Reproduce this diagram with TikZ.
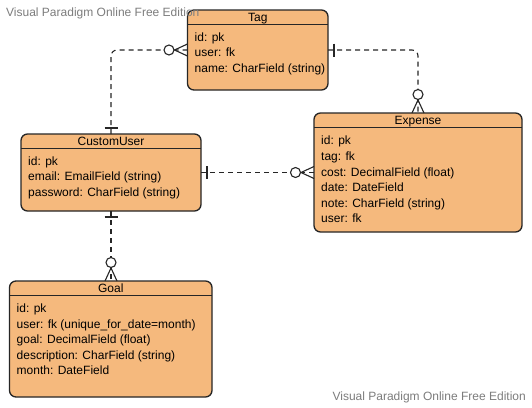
\documentclass[tikz,border=0pt]{standalone}
\usepackage{fontspec}
\setmainfont{Liberation Sans}
\usetikzlibrary{calc}
\definecolor{ent}{RGB}{245,185,125}
\definecolor{edge}{RGB}{38,38,38}
\definecolor{wm}{RGB}{125,125,125}
\tikzset{
  entity/.style={draw=edge, fill=ent, line width=1.3pt, rounded corners=6.5pt, anchor=north west, inner sep=0pt, outer sep=0pt},
  etitle/.style={font=\fontsize{12}{14}\selectfont, anchor=base, inner sep=0pt, text=black},
  ebody/.style={font=\fontsize{12}{15.6}\selectfont, align=left, anchor=north west, inner sep=0pt, text=black},
  hline/.style={draw=edge, line width=0.9pt},
  rel/.style={draw=edge, line width=1.1pt, dash pattern=on 5pt off 4pt, rounded corners=6pt},
  sym/.style={draw=edge, line width=1.1pt},
  watermark/.style={font=\fontsize{12}{14}\selectfont, text=wm, inner sep=0pt}
}
\newcommand\ERentity[8]{%
  \node[entity, minimum width=#4pt, minimum height=#5pt] (#1) at (#2,#3) {};
  \node[etitle] (#1-title) at ($(#1.north)+(0,11)$) {#6};
  \draw[hline] ($(#1.north west)+(0,14)$) -- ($(#1.north east)+(0,14)$);
  \node[ebody] (#1-body) at ($(#1.north west)+(7,#8)$) {#7};
}
\newcommand\ManyLeft[1]{\begin{scope}[shift={(#1)}]
  \draw[sym] (-13,0) -- (0,-6) (-13,0) -- (0,6);
  \draw[sym, fill=white] (-18.5,0) circle[radius=5pt];\end{scope}}
\newcommand\ManyUp[1]{\begin{scope}[shift={(#1)}]
  \draw[sym] (0,-13) -- (-6,0) (0,-13) -- (6,0);
  \draw[sym, fill=white] (0,-18.5) circle[radius=5pt];\end{scope}}
\newcommand\BarV[2]{\begin{scope}[shift={(#1)}]
  \draw[sym] (#2,-6.5) -- (#2,6.5);\end{scope}}
\newcommand\BarH[2]{\begin{scope}[shift={(#1)}]
  \draw[sym] (-6.5,#2) -- (6.5,#2);\end{scope}}
\begin{document}
\begin{tikzpicture}[x=1pt,y=-1pt]
  \useasboundingbox[fill=white] (0,0) rectangle (532,407);
  \ERentity{tag}{187.5}{10}{140.5}{80}{Tag}{id: pk\\user: fk\\name: CharField (string)}{22.5}
  \ERentity{cu}{21}{134}{180}{77}{CustomUser}{id: pk\\email: EmailField (string)\\password: CharField (string)}{22.5}
  \ERentity{exp}{314}{113}{208}{119}{Expense}{id: pk\\tag: fk\\cost: DecimalField (float)\\date: DateField\\note: CharField (string)\\user: fk}{23}
  \ERentity{goal}{9.5}{281}{202.5}{116}{Goal}{id: pk\\user: fk (unique\_for\_date=month)\\goal: DecimalField (float)\\description: CharField (string)\\month: DateField}{22.5}
  % connectors
  \draw[rel] (tag.west) -| (cu.north);
  \draw[rel] (tag.east) -| (exp.north);
  \draw[rel] (cu.east) -- (exp.west);
  \draw[rel] (cu.south) -- (cu.south |- goal.north);
  % end symbols
  \ManyLeft{tag.west}
  \BarH{cu.north}{-6}
  \BarV{tag.east}{6}
  \ManyUp{exp.north}
  \BarV{cu.east}{6}
  \ManyLeft{exp.west}
  \BarH{cu.south}{6}
  \ManyUp{cu.south |- goal.north}
  % watermarks
  \node[watermark, anchor=base west] (wm1) at (6,16) {Visual Paradigm Online Free Edition};
  \node[watermark, anchor=base east] (wm2) at (526,400) {Visual Paradigm Online Free Edition};
\end{tikzpicture}
\end{document}
